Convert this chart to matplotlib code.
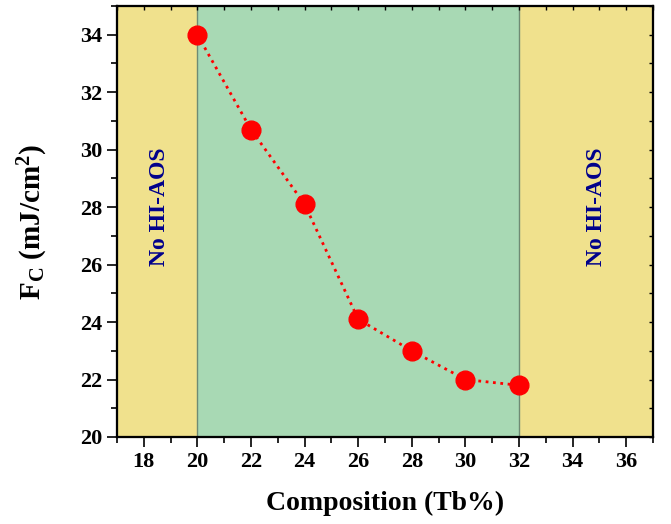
import numpy as np
import matplotlib.pyplot as plt
from matplotlib.ticker import MultipleLocator

plt.rcParams['font.family'] = ['Liberation Serif', 'DejaVu Serif']
plt.rcParams['font.weight'] = 'bold'
plt.rcParams['mathtext.fontset'] = 'custom'
plt.rcParams['mathtext.rm'] = 'Liberation Serif:bold'
plt.rcParams['mathtext.it'] = 'Liberation Serif:bold'
plt.rcParams['mathtext.bf'] = 'Liberation Serif:bold'

composition = [20, 22, 24, 26, 28, 30, 32]
fc = [34.0, 30.7, 28.1, 24.1, 23.0, 22.0, 21.8]

fig = plt.figure(figsize=(6.71, 5.24), dpi=100)
ax = fig.add_axes([117 / 671, 1 - 437 / 524, 536 / 671, 431 / 524])

yellow = '#F0E18D'
green = '#A8D9B4'
ax.axvspan(17, 20, color=yellow, lw=0)
ax.axvspan(20, 32, color=green, lw=0)
ax.axvspan(32, 37, color=yellow, lw=0)
ax.axvline(20, color='#6E8B74', lw=1)
ax.axvline(32, color='#6E8B74', lw=1)

ax.plot(composition, fc, color='red', ls=':', lw=2, marker='o', ms=13.5,
        markeredgecolor='red', zorder=5)

ax.text(18.57, 28, 'No HI-AOS', rotation=90, ha='center', va='center',
        color='#00008B', fontsize=17, fontweight='bold')
ax.text(34.9, 28, 'No HI-AOS', rotation=90, ha='center', va='center',
        color='#00008B', fontsize=17, fontweight='bold')

ax.set_xlim(17, 37)
ax.set_ylim(20, 35)
ax.set_xticks(np.arange(18, 37, 2))
ax.set_yticks(np.arange(20, 35, 2))
ax.xaxis.set_minor_locator(MultipleLocator(1))
ax.yaxis.set_minor_locator(MultipleLocator(1))

ax.tick_params(which='both', direction='out', labelsize=16, width=1.2)
ax.tick_params(which='major', length=7)
ax.tick_params(which='minor', length=4)

# small inward ticks on top and right
axt = ax.twiny()
axt.set_xlim(ax.get_xlim())
axt.set_xticks(np.arange(18, 37, 2))
axt.xaxis.set_minor_locator(MultipleLocator(1))
axt.tick_params(which='both', direction='in', labeltop=False, length=3, width=1)
axr = ax.twinx()
axr.set_ylim(ax.get_ylim())
axr.set_yticks(np.arange(20, 35, 2))
axr.yaxis.set_minor_locator(MultipleLocator(1))
axr.tick_params(which='both', direction='in', labelright=False, length=3, width=1)

for a in (ax, axt, axr):
    for s in a.spines.values():
        s.set_linewidth(1.5)

ax.set_xlabel('Composition (Tb%)', fontsize=20, fontweight='bold', labelpad=14)
ax.set_ylabel(r'F$_\mathrm{C}$ (mJ/cm$^\mathrm{2}$)', fontsize=21,
              fontweight='bold', labelpad=22)

fig.savefig('out.png', dpi=100)
